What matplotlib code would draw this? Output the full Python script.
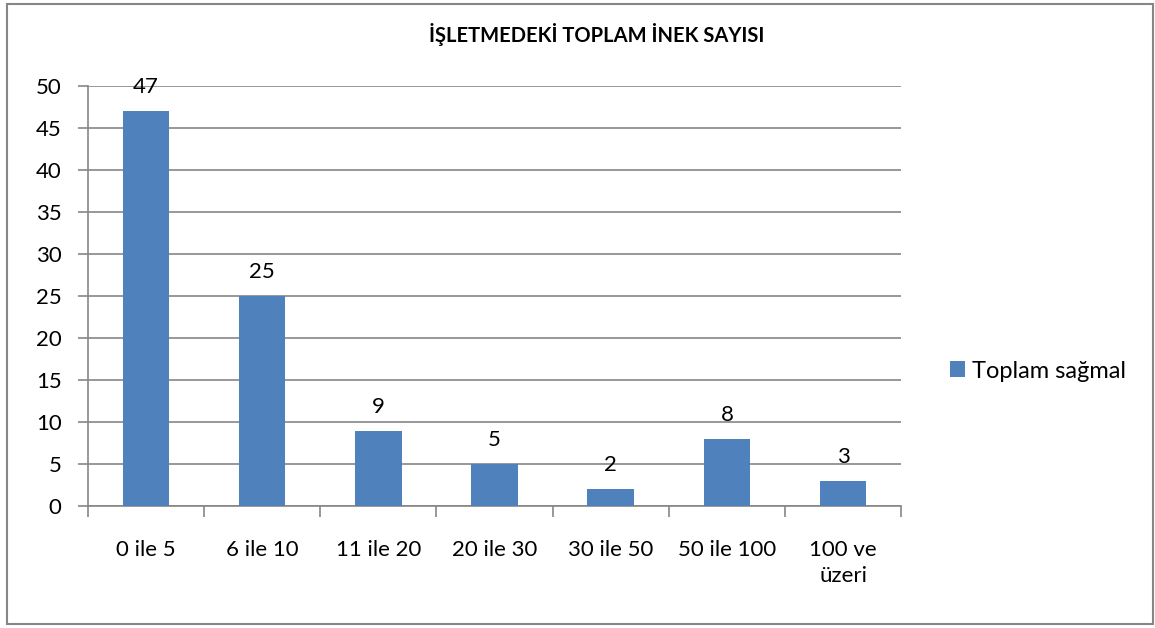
import matplotlib.pyplot as plt
from matplotlib.patches import Rectangle

# Data
categories = ["0 ile 5", "6 ile 10", "11 ile 20", "20 ile 30", "30 ile 50", "50 ile 100", "100 ve\nüzeri"]
values = [47, 25, 9, 5, 2, 8, 3]
series_name = "Toplam sağmal"
title = "İŞLETMEDEKİ TOPLAM İNEK SAYISI"

BAR_COLOR = "#4F81BD"
GRID_COLOR = "#868686"
FONT = ["Lato", "DejaVu Sans"]
FS = 16

plt.rcParams['font.family'] = FONT

fig = plt.figure(figsize=(11.55, 6.28), dpi=100)
ax = fig.add_axes([0.0762, 0.194, 0.704, 0.669])

x = list(range(len(categories)))
bars = ax.bar(x, values, width=0.4, color=BAR_COLOR, zorder=3, label=series_name)

# Data labels above each bar
for xi, v in zip(x, values):
    ax.annotate(str(v), xy=(xi, v), xytext=(0, 10), textcoords='offset points',
                ha='center', va='bottom', fontsize=FS, color='black')

ax.set_xlim(-0.5, len(categories) - 0.5)
ax.set_ylim(0, 50)
ax.set_yticks(range(0, 51, 5))
ax.yaxis.grid(True, color=GRID_COLOR, linewidth=1.2, zorder=0)
ax.set_axisbelow(True)

# Category labels centred, tick marks at category boundaries
ax.set_xticks(x)
ax.set_xticklabels(categories, fontsize=FS, linespacing=1.4)
ax.tick_params(axis='x', which='major', length=0, pad=24)
ax.set_xticks([i - 0.5 for i in range(len(categories) + 1)], minor=True)
ax.tick_params(axis='x', which='minor', length=8, width=1.2, color=GRID_COLOR)
ax.tick_params(axis='y', length=7, width=1.2, color=GRID_COLOR, labelsize=FS, pad=12)

for side in ['top', 'right']:
    ax.spines[side].set_visible(False)
for side in ['left', 'bottom']:
    ax.spines[side].set_color(GRID_COLOR)
    ax.spines[side].set_linewidth(1.2)

fig.text(0.517, 0.945, title, ha='center', va='center', fontsize=14.5, fontweight='bold')

leg = fig.legend(handles=[bars], labels=[series_name], loc='center left',
                 bbox_to_anchor=(0.804, 0.409), frameon=False, fontsize=17,
                 handlelength=0.65, handleheight=0.65, handletextpad=0.3)

# Outer border of the chart
fig.patches.append(Rectangle((0.006, 0.006), 0.992, 0.988, transform=fig.transFigure,
                             fill=False, edgecolor=GRID_COLOR, linewidth=1.5))

fig.savefig("out.png", dpi=100)
